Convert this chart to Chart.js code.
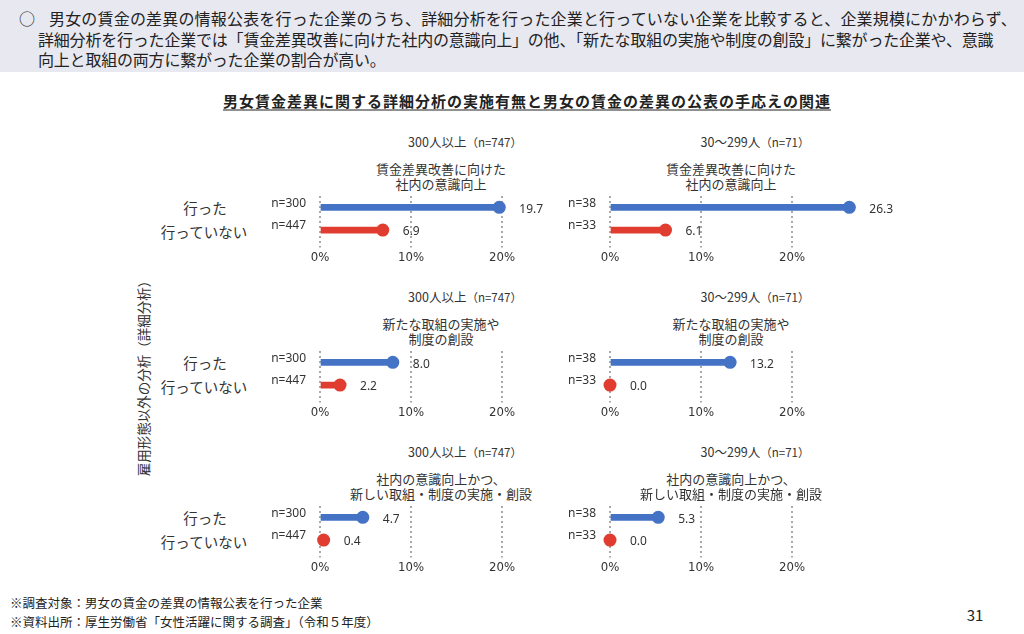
<!DOCTYPE html>
<html>
<head>
<meta charset="utf-8">
<script src="https://cdn.jsdelivr.net/npm/chart.js@4.4.0/dist/chart.umd.min.js"></script>
<style>
  body { margin: 0; width: 1024px; height: 634px; position: relative; overflow: hidden; background: #fff;
         font-family: "Noto Sans CJK JP", "Noto Sans", sans-serif; color: #222; }
  #head { position: absolute; left: 0; top: 0; width: 1024px; height: 72px; background: #e8e8f0; }
  .c { position: absolute; white-space: nowrap; line-height: 1; transform: translate(-50%, -50%); }
  .l { position: absolute; white-space: nowrap; line-height: 1; transform: translateY(-50%); }
  canvas { position: absolute; }
</style>
</head>
<body>
<div id="head"></div>
<script>
// ---- data ----
const sizeTitles = ["300人以上", "30～299人"];
const sizeNs = ["（n=747）", "（n=71）"];
const categoryLines = [
  ["賃金差異改善に向けた", "社内の意識向上"],
  ["新たな取組の実施や", "制度の創設"],
  ["社内の意識向上かつ、", "新しい取組・制度の実施・創設"]
];
const groupNs = [["n=300", "n=447"], ["n=38", "n=33"]];
const rowLabels = ["行った", "行っていない"];
// values by company size, then by category (%)
const didValues = [[19.7, 8.0, 4.7], [26.3, 13.2, 5.3]];
const didNotValues = [[6.9, 2.2, 0.4], [6.1, 0.0, 0.0]];
const xTicks = [0, 10, 20];

const headLines = [
  "男女の賃金の差異の情報公表を行った企業のうち、詳細分析を行った企業と行っていない企業を比較すると、企業規模にかかわらず、",
  "詳細分析を行った企業では「賃金差異改善に向けた社内の意識向上」の他、「新たな取組の実施や制度の創設」に繋がった企業や、意識",
  "向上と取組の両方に繋がった企業の割合が高い。"
];
const chartTitle = "男女賃金差異に関する詳細分析の実施有無と男女の賃金の差異の公表の手応えの関連";
const sideTitle = "雇用形態以外の分析（詳細分析）";
const notes = [
  "※調査対象：男女の賃金の差異の情報公表を行った企業",
  "※資料出所：厚生労働省「女性活躍に関する調査」（令和５年度）"
];

const BLUE = "#4472c4", RED = "#e03c2f";
const colors = [BLUE, RED];

// ---- layout ----
const zeroX = [320, 610];
const rowY = [206, 361, 516];   // centre of the blue bar in each row
const AXIS_W = 60, PLOT_W = 273, PAD_R = 50, PAD_T = 10, BAND = 23.5;

function text(str, x, y, css, cls) {
  const d = document.createElement("div");
  d.className = cls || "c";
  d.textContent = str;
  d.style.left = x + "px";
  d.style.top = y + "px";
  Object.assign(d.style, css || {});
  document.body.appendChild(d);
  return d;
}

// header
text("○", 19, 18, { fontSize: "16px" }, "l");
text(headLines[0], 49, 18, { fontSize: "16px", letterSpacing: "0.18px" }, "l");
text(headLines[1], 38, 39, { fontSize: "16px", letterSpacing: "-0.2px" }, "l");
text(headLines[2], 38, 59, { fontSize: "16px", letterSpacing: "-0.2px" }, "l");

// chart title
text(chartTitle, 527, 100, { fontSize: "15px", fontWeight: "bold", letterSpacing: "1px",
  textDecoration: "underline", textUnderlineOffset: "3px" });

// side title
text(sideTitle, 144, 375, { fontSize: "13.5px", color: "#333", transform: "translate(-50%,-50%) rotate(-90deg)" });

// footer
text(notes[0], 10, 603, { fontSize: "12.5px" }, "l");
text(notes[1], 10, 622, { fontSize: "12.5px" }, "l");
text("31", 975, 614, { fontSize: "15px" });

// value labels next to the dots, n labels left of the bars
const lollipopLabels = {
  id: "lollipopLabels",
  afterDatasetsDraw(chart) {
    const ctx = chart.ctx;
    const ds = chart.data.datasets[0];
    const yScale = chart.scales.y;
    ctx.save();
    ctx.fillStyle = "#333";
    ctx.textBaseline = "middle";
    ctx.font = '12px "Noto Sans", sans-serif';
    ctx.textAlign = "left";
    chart.getDatasetMeta(0).data.forEach((pt, i) => {
      ctx.fillText(ds.data[i].toFixed(1), pt.x + 20, pt.y + 2);
    });
    ctx.textAlign = "right";
    chart.data.labels.forEach((lab, i) => {
      ctx.fillText(lab, chart.chartArea.left - 14, yScale.getPixelForValue(i) - 4);
    });
    ctx.restore();
  }
};

function makeChart(col, row) {
  const c = document.createElement("canvas");
  c.width = AXIS_W + PLOT_W + PAD_R;
  c.height = 81;
  c.style.left = (zeroX[col] - AXIS_W) + "px";
  c.style.top = (rowY[row] - BAND / 2 - PAD_T + 2) + "px";
  document.body.appendChild(c);
  const vals = [didValues[col][row], didNotValues[col][row]];
  new Chart(c, {
    type: "bar",
    data: {
      labels: groupNs[col],
      datasets: [
        { type: "line", data: vals, showLine: false, pointRadius: 6.5, pointHoverRadius: 6.5,
          pointBackgroundColor: colors, pointBorderWidth: 0, clip: false, order: 0 },
        { type: "bar", data: vals, backgroundColor: colors, barThickness: 6, order: 1 }
      ]
    },
    options: {
      indexAxis: "y",
      responsive: false,
      animation: false,
      events: [],
      layout: { padding: { top: PAD_T, right: PAD_R, left: 0, bottom: 0 } },
      plugins: { legend: { display: false }, tooltip: { enabled: false } },
      scales: {
        x: {
          min: 0, max: 30,
          afterBuildTicks: s => { s.ticks = xTicks.map(v => ({ value: v })); },
          grid: { color: "#a8a8a8", lineWidth: 2, tickLength: 6, tickBorderDash: [2, 3] },
          border: { display: false, dash: [2, 3] },
          ticks: { callback: v => v + "%", color: "#333", padding: 2,
                   font: { family: "DejaVu Sans Condensed", size: 13 } }
        },
        y: {
          grid: { display: false },
          border: { display: false },
          afterFit: s => { s.width = AXIS_W; },
          ticks: { display: false }
        }
      }
    },
    plugins: [lollipopLabels]
  });
}

for (let row = 0; row < 3; row++) {
  const dy = rowY[row] - rowY[0];
  for (let col = 0; col < 2; col++) {
    const z = zeroX[col];
    const t = text("", z + 145, 142 + dy, { fontSize: "12.5px", color: "#333" });
    t.innerHTML = sizeTitles[col] + '<span style="font-size:11.5px">' + sizeNs[col] + "</span>";
    text(categoryLines[row][0], z + 121, 168 + dy, { fontSize: "13px", color: "#333" });
    text(categoryLines[row][1], z + 121, 183 + dy, { fontSize: "13px", color: "#333" });
    makeChart(col, row);
  }
  text(rowLabels[0], 205, 208 + dy, { fontSize: "14.5px", color: "#333" });
  text(rowLabels[1], 204, 232 + dy, { fontSize: "14.5px", color: "#333" });
}
</script>
</body>
</html>
